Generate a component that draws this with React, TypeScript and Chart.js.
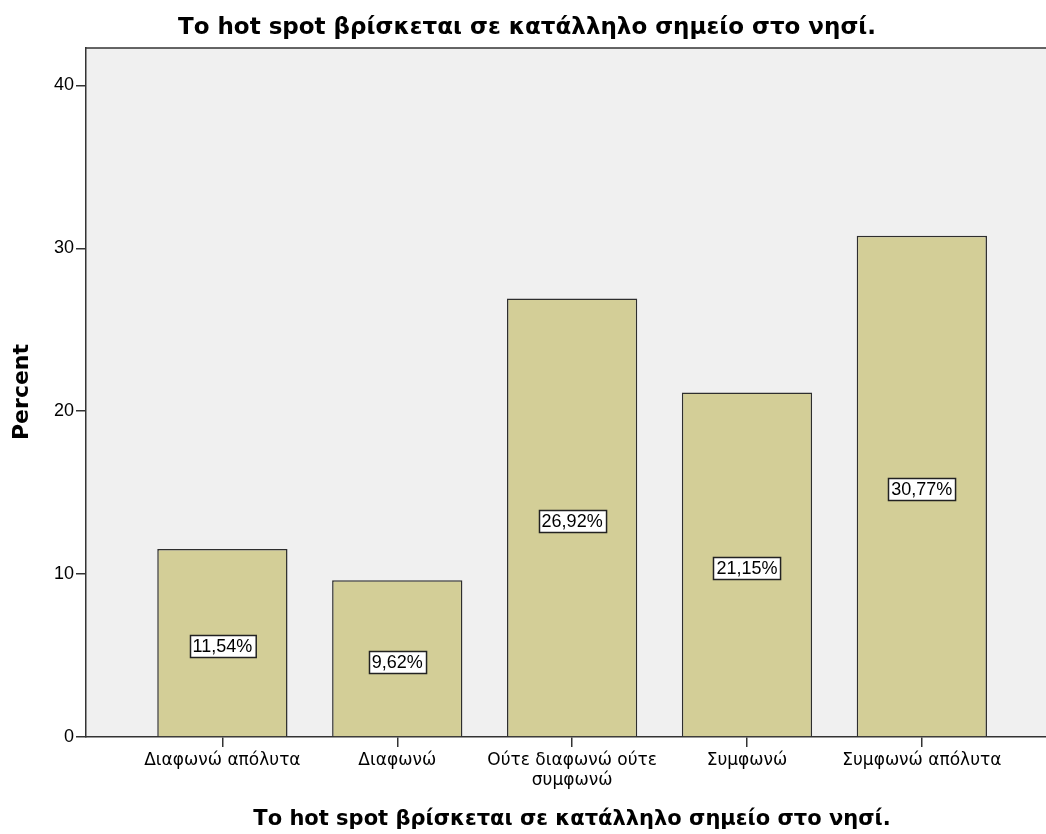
import React, { useEffect, useRef } from "react";
import { Chart, registerables } from "chart.js";

Chart.register(...registerables);

const chartTitle = "Το hot spot βρίσκεται σε κατάλληλο σημείο στο νησί.";
const xAxisTitle = "Το hot spot βρίσκεται σε κατάλληλο σημείο στο νησί.";
const yAxisTitle = "Percent";
const categories: string[][] = [
  ["Διαφωνώ απόλυτα"],
  ["Διαφωνώ"],
  ["Ούτε διαφωνώ ούτε", "συμφωνώ"],
  ["Συμφωνώ"],
  ["Συμφωνώ απόλυτα"],
];
const percents = [11.54, 9.62, 26.92, 21.15, 30.77];
const yTicks = [0, 10, 20, 30, 40];

const fmt = (v: number) => v.toFixed(2).replace(".", ",") + "%";

const decorPlugin = {
  id: "decor",
  beforeDraw(chart: any) {
    const { ctx, chartArea } = chart;
    ctx.save();
    ctx.fillStyle = "#f0f0f0";
    ctx.fillRect(chartArea.left, chartArea.top, chartArea.right - chartArea.left, chartArea.bottom - chartArea.top);
    ctx.restore();
  },
  afterDraw(chart: any) {
    const { ctx, chartArea } = chart;
    ctx.save();
    // top frame line
    ctx.strokeStyle = "#333";
    ctx.lineWidth = 1.5;
    ctx.beginPath();
    ctx.moveTo(chartArea.left, chartArea.top);
    ctx.lineTo(chartArea.right, chartArea.top);
    ctx.stroke();

    // value labels
    const meta = chart.getDatasetMeta(0);
    const yScale = chart.scales.y;
    ctx.font = "18px 'Liberation Sans', Arial, sans-serif";
    ctx.textAlign = "center";
    ctx.textBaseline = "middle";
    meta.data.forEach((bar: any, i: number) => {
      const v = percents[i];
      const txt = fmt(v);
      const cy = yScale.getPixelForValue(v / 2) + 3;
      const w = ctx.measureText(txt).width + 6;
      const h = 22;
      const x0 = Math.round(bar.x - w / 2) + 0.5;
      const y0 = Math.round(cy - h / 2) + 0.5;
      ctx.fillStyle = "#ffffff";
      ctx.fillRect(x0, y0, w, h);
      ctx.strokeStyle = "#222";
      ctx.lineWidth = 1.5;
      ctx.strokeRect(x0, y0, w, h);
      ctx.fillStyle = "#000";
      ctx.fillText(txt, bar.x, cy + 1);
    });

    // titles
    ctx.fillStyle = "#000";
    ctx.textAlign = "center";
    ctx.textBaseline = "alphabetic";
    ctx.font = "bold 23px 'DejaVu Sans', sans-serif";
    ctx.fillText(chartTitle, 527, 34);
    ctx.font = "bold 21px 'DejaVu Sans', sans-serif";
    ctx.fillText(xAxisTitle, 572, 825);
    ctx.translate(22, 392);
    ctx.rotate(-Math.PI / 2);
    ctx.textBaseline = "middle";
    ctx.font = "bold 22px 'DejaVu Sans', sans-serif";
    ctx.fillText(yAxisTitle, 0, 0);
    ctx.restore();
  },
};

export default function App() {
  const ref = useRef<HTMLCanvasElement | null>(null);
  useEffect(() => {
    document.body.style.margin = "0";
    const canvas = ref.current;
    if (!canvas) return;
    const chart = new Chart(canvas, {
      type: "bar",
      data: {
        datasets: [
          {
            data: percents.map((p, i) => ({ x: i, y: p })),
            backgroundColor: "#d3ce97",
            borderColor: "#2e2e2e",
            borderWidth: 1.5,
            barPercentage: 0.745,
            categoryPercentage: 1,
          },
        ],
      },
      options: {
        animation: false,
        responsive: true,
        maintainAspectRatio: false,
        layout: { padding: { top: 48, right: 0, left: 0, bottom: 0 } },
        plugins: { legend: { display: false }, tooltip: { enabled: false }, title: { display: false } },
        scales: {
          x: {
            type: "linear",
            offset: false,
            min: -0.78,
            max: 4.71,
            afterBuildTicks: (s: any) => {
              s.ticks = categories.map((_, i) => ({ value: i }));
            },
            afterFit: (s: any) => {
              s.height = 97;
            },
            ticks: {
              autoSkip: false,
              maxRotation: 0,
              padding: 4,
              color: "#000",
              font: { family: "'DejaVu Sans', sans-serif", size: 17, lineHeight: 1.15 },
              callback: (v: any) => categories[v] ?? "",
            },
            grid: { offset: false, drawOnChartArea: false, drawTicks: true, tickLength: 10, color: "#333", lineWidth: 1.5 },
            border: { display: true, color: "#333", width: 1.5 },
          },
          y: {
            min: 0,
            max: 42.3,
            afterBuildTicks: (s: any) => {
              s.ticks = yTicks.map((v) => ({ value: v }));
            },
            afterFit: (s: any) => {
              s.width = 86;
            },
            ticks: {
              padding: 2,
              color: "#000",
              font: { family: "'Liberation Sans', Arial, sans-serif", size: 18 },
            },
            grid: { drawOnChartArea: false, drawTicks: true, tickLength: 10, color: "#333", lineWidth: 1.5 },
            border: { display: true, color: "#333", width: 1.5 },
          },
        },
      } as any,
      plugins: [decorPlugin],
    });
    return () => chart.destroy();
  }, []);
  return (
    <div style={{ width: 1046, height: 834, position: "relative", overflow: "hidden", background: "#fff" }}>
      <canvas ref={ref} />
    </div>
  );
}
